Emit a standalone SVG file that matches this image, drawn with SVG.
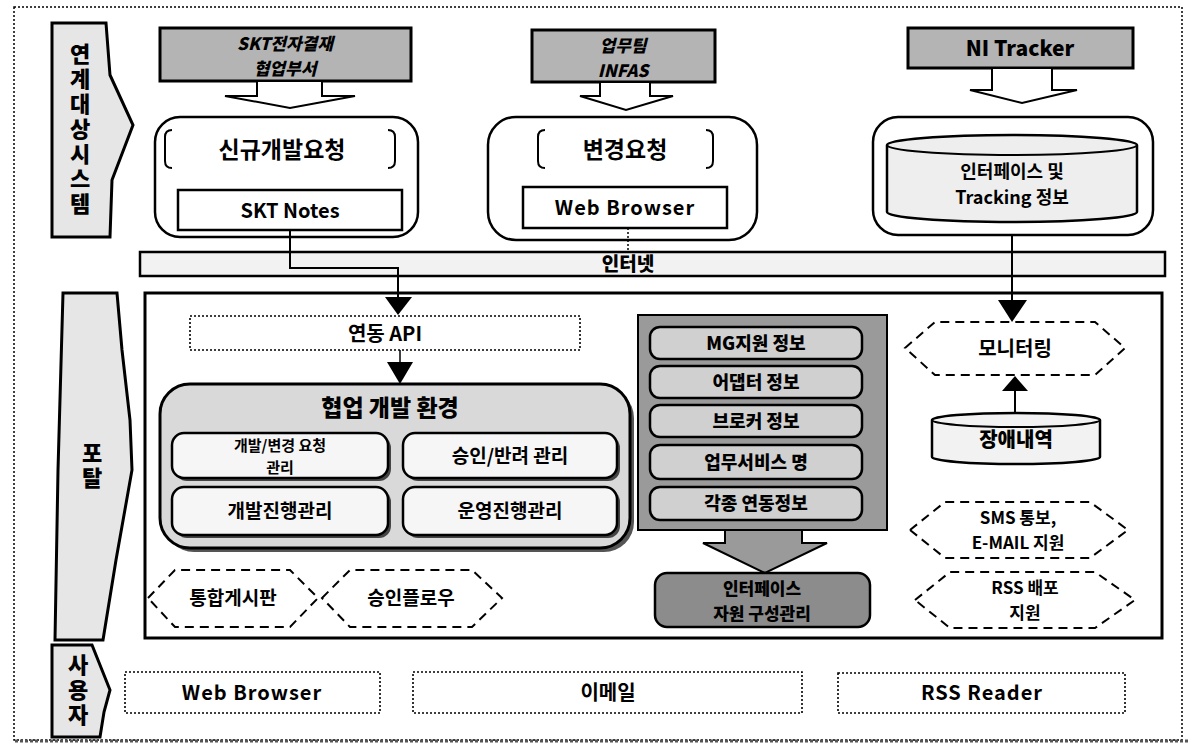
<svg xmlns="http://www.w3.org/2000/svg" width="1188" height="747" viewBox="0 0 1188 747">
<style>
text{font-family:"Noto Sans CJK KR","Noto Sans",sans-serif;fill:#000;text-anchor:middle}
.t{font-size:20px;font-weight:700}
.h{font-size:17px;font-weight:900;font-style:italic}
.lbl{font-size:22px;font-weight:900;writing-mode:vertical-rl;text-orientation:upright;letter-spacing:3px}
.box{fill:#fff;stroke:#000;stroke-width:2.5}
.hdr{fill:#b4b4b4;stroke:#000;stroke-width:3}
.barrow{fill:#fff;stroke:#000;stroke-width:2}
.dot{fill:#fff;stroke:#000;stroke-width:1.6;stroke-dasharray:2 2}
.hex{fill:#fff;stroke:#000;stroke-width:2;stroke-dasharray:9 6}
.side{fill:#e6e6e6;stroke:#000;stroke-width:3}
.row{fill:#d0d0d0;stroke:#000;stroke-width:2.5}
.inner{fill:#f6f6f6;stroke:#000;stroke-width:2.5}
.ln{fill:none;stroke:#000;stroke-width:2}
</style>
<rect x="14" y="7" width="1168" height="733" fill="#fff" stroke="#000" stroke-width="1.5" stroke-dasharray="2 2"/>
<line x1="15" y1="741" x2="1188" y2="741" stroke="#555" stroke-width="3" stroke-dasharray="3 2"/>

<g id="label-linked">
<polygon class="side" points="52,23 106,23 110,75 133,125 112,180 110,237 52,237"/>
<text class="lbl" x="80" y="130">연계대상시스템</text>
</g>
<g id="label-portal">
<polygon class="side" points="63,293 117,293 122,350 130,420 132,470 116,560 103,640 55,640 58,470"/>
<text class="lbl" x="92" y="467">포탈</text>
</g>
<g id="label-user">
<polygon class="side" points="52,645 92,645 100,665 110,690 104,712 100,737 52,737"/>
<text class="lbl" x="78" y="691">사용자</text>
</g>

<g id="skt-header">
<rect class="hdr" x="160" y="28" width="251" height="53"/>
<text class="h" x="285" y="50">SKT전자결재<tspan x="285" dy="25">협업부서</tspan></text>
<polygon class="barrow" points="257,81 257,96 225,96 290,108 355,96 322,96 322,81"/>
</g>
<g id="new-request">
<rect class="box" x="155" y="117" width="263" height="120" rx="25"/>
<path class="ln" d="M172,130 Q165,130 165,137 V161 Q165,168 172,168 M388,130 Q395,130 395,137 V161 Q395,168 388,168"/>
<text x="282" y="158" style="font-size:23px;font-weight:700">신규개발요청</text>
<rect class="box" x="178" y="190" width="224" height="40"/>
<text class="t" x="290" y="218">SKT Notes</text>
</g>

<g id="infas-header">
<rect class="hdr" x="532" y="30" width="183" height="52"/>
<text class="h" x="623" y="52">업무팀<tspan x="623" dy="25">INFAS</tspan></text>
<polygon class="barrow" points="600,82 600,96 580,96 626,110 673,96 650,96 650,82"/>
</g>
<g id="change-request">
<rect class="box" x="488" y="117" width="269" height="123" rx="28"/>
<path class="ln" d="M545,130 Q538,130 538,137 V161 Q538,168 545,168 M706,130 Q713,130 713,137 V161 Q713,168 706,168"/>
<text x="625" y="158" style="font-size:23px;font-weight:700">변경요청</text>
<rect class="box" x="523" y="187" width="204" height="41"/>
<text class="t" x="625" y="215" style="letter-spacing:1px">Web Browser</text>
</g>

<g id="tracker-header">
<rect class="hdr" x="908" y="28" width="225" height="40"/>
<text class="h" x="1020" y="56" style="font-style:normal;font-size:21px">NI Tracker</text>
<polygon class="barrow" points="992,68 992,90 970,90 1022,103 1077,90 1052,90 1052,68"/>
</g>
<g id="tracking-info">
<rect class="box" x="873" y="117" width="280" height="118" rx="25"/>
<path d="M887,145 A125,10 0 0 1 1137,145 V212 A125,10 0 0 1 887,212 Z" fill="#eee" stroke="#000" stroke-width="2.5"/>
<path class="ln" d="M887,145 A125,10 0 0 0 1137,145"/>
<text x="1012" y="178" style="font-size:18px;font-weight:700">인터페이스 및<tspan x="1012" dy="26">Tracking 정보</tspan></text>
</g>

<g id="internet">
<rect x="140" y="252" width="1025" height="24" fill="#f2f2f2" stroke="#000" stroke-width="2.5"/>
<text x="628" y="271" style="font-size:19px;font-weight:900">인터넷</text>
</g>

<g id="platform">
<rect x="145" y="293" width="1017" height="345" fill="#fff" stroke="#000" stroke-width="3"/>
</g>

<g id="api">
<rect class="dot" x="190" y="316" width="390" height="34"/>
<text class="t" x="385" y="341">연동 API</text>
</g>

<g id="collab">
<rect x="164" y="388" width="470" height="164" rx="30" fill="#555"/>
<rect x="160" y="384" width="470" height="164" rx="30" fill="#d9d9d9" stroke="#000" stroke-width="3"/>
<text x="390" y="416" style="font-size:23px;font-weight:900">협업 개발 환경</text>
<rect x="175" y="436" width="216" height="45" rx="12" fill="#444"/>
<rect class="inner" x="172" y="433" width="216" height="45" rx="12"/>
<text x="280" y="451" style="font-size:15px;font-weight:700">개발/변경 요청<tspan x="280" dy="22">관리</tspan></text>
<rect x="406" y="436" width="214" height="45" rx="12" fill="#444"/>
<rect class="inner" x="403" y="433" width="214" height="45" rx="12"/>
<text x="510" y="463" style="font-size:19px;font-weight:700">승인/반려 관리</text>
<rect x="175" y="490" width="216" height="48" rx="12" fill="#444"/>
<rect class="inner" x="172" y="487" width="216" height="48" rx="12"/>
<text x="280" y="518" style="font-size:19px;font-weight:700">개발진행관리</text>
<rect x="406" y="490" width="214" height="48" rx="12" fill="#444"/>
<rect class="inner" x="403" y="487" width="214" height="48" rx="12"/>
<text x="510" y="518" style="font-size:19px;font-weight:700">운영진행관리</text>
</g>

<g id="board">
<polygon class="hex" points="148,598 175,570 290,570 318,598 290,627 175,627"/>
<text x="233" y="605" style="font-size:19px;font-weight:700">통합게시판</text>
</g>
<g id="approval-flow">
<polygon class="hex" points="322,598 350,570 472,570 502,598 472,627 350,627"/>
<text x="411" y="605" style="font-size:19px;font-weight:700">승인플로우</text>
</g>

<g id="resources">
<rect x="638" y="315" width="249" height="215" fill="#9a9a9a" stroke="#000" stroke-width="2"/>
<rect class="row" x="650" y="327" width="212" height="32" rx="10"/>
<text x="756" y="350" style="font-size:18px;font-weight:900">MG지원 정보</text>
<rect class="row" x="650" y="366" width="212" height="32" rx="10"/>
<text x="756" y="389" style="font-size:18px;font-weight:900">어댑터 정보</text>
<rect class="row" x="650" y="405" width="212" height="32" rx="10"/>
<text x="756" y="428" style="font-size:18px;font-weight:900">브로커 정보</text>
<rect class="row" x="650" y="445" width="212" height="34" rx="10"/>
<text x="756" y="469" style="font-size:18px;font-weight:900">업무서비스 명</text>
<rect class="row" x="650" y="487" width="212" height="33" rx="10"/>
<text x="756" y="510" style="font-size:18px;font-weight:900">각종 연동정보</text>
<polygon points="725,530 725,543 703,543 765,573 827,543 802,543 802,530" fill="#9a9a9a" stroke="#000" stroke-width="2"/>
<rect x="655" y="573" width="215" height="54" rx="12" fill="#8c8c8c" stroke="#000" stroke-width="2.5"/>
<text x="762" y="595" style="font-size:17px;font-weight:900">인터페이스<tspan x="762" dy="25">자원 구성관리</tspan></text>
</g>

<g id="monitoring">
<polygon class="hex" points="905,348 935,322 1095,322 1125,348 1095,375 935,375"/>
<text x="1015" y="356" style="font-size:20px;font-weight:700">모니터링</text>
</g>
<g id="failures">
<path d="M932,420 A84,7 0 0 1 1100,420 V457 A84,7 0 0 1 932,457 Z" fill="#f2f2f2" stroke="#000" stroke-width="2.5"/>
<path class="ln" d="M932,420 A84,7 0 0 0 1100,420"/>
<text x="1016" y="447" style="font-size:20px;font-weight:900">장애내역</text>
</g>
<g id="sms">
<polygon class="hex" points="910,530 945,502 1090,502 1128,530 1090,558 945,558"/>
<text x="1018" y="524" style="font-size:17px;font-weight:700">SMS 통보,<tspan x="1018" dy="25">E-MAIL 지원</tspan></text>
</g>
<g id="rss">
<polygon class="hex" points="915,600 950,572 1095,572 1135,600 1095,628 950,628"/>
<text x="1025" y="594" style="font-size:17px;font-weight:700">RSS 배포<tspan x="1025" dy="25">지원</tspan></text>
</g>

<g id="user-web">
<rect class="dot" x="125" y="672" width="255" height="41"/>
<text class="t" x="252" y="700" style="letter-spacing:1px">Web Browser</text>
</g>
<g id="user-mail">
<rect class="dot" x="413" y="672" width="389" height="41"/>
<text class="t" x="608" y="700">이메일</text>
</g>
<g id="user-rss">
<rect class="dot" x="838" y="673" width="287" height="40"/>
<text class="t" x="982" y="700" style="letter-spacing:1px">RSS Reader</text>
</g>

<g id="connectors">
<path class="ln" d="M290,230 V268 H398 V298"/>
<polygon points="385,297 412,297 398,315"/>
<line x1="628" y1="228" x2="628" y2="252" stroke="#000" stroke-width="1.5" stroke-dasharray="2 2"/>
<path class="ln" d="M1012,235 V301"/>
<polygon points="998,300 1027,300 1012,322"/>
<line x1="400" y1="350" x2="400" y2="363" stroke="#000" stroke-width="1.5"/>
<polygon points="387,362 413,362 400,384"/>
<line x1="1015" y1="413" x2="1015" y2="390" stroke="#000" stroke-width="2"/>
<polygon points="1002,391 1028,391 1015,376"/>
</g>
</svg>
